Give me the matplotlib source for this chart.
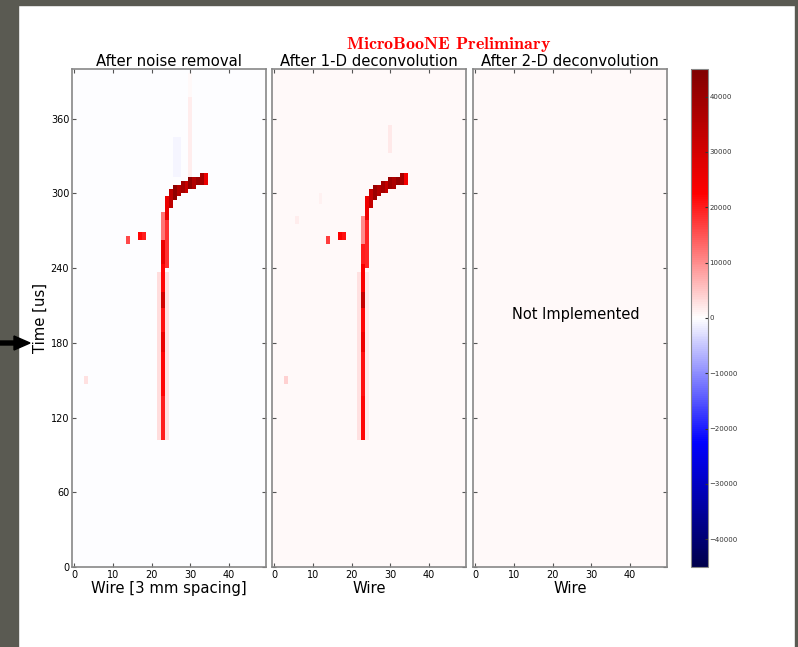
import numpy as np
import matplotlib
matplotlib.use("Agg")
import matplotlib.pyplot as plt
from matplotlib.patches import Rectangle, FancyArrow

plt.rcParams['mathtext.fontset'] = 'cm'

# detector grid: 50 wires x 125 time bins spanning 0-400 us
n_wires = 50
n_ticks = 125
t_max = 400.0

# hits as (wire, t_start, t_end, charge)
hits_raw = [
    (22, 103, 235, 3000), (24, 103, 235, 2500),
    (23, 103, 140, 20000), (23, 140, 175, 22000), (23, 175, 190, 26000),
    (23, 190, 210, 21000), (23, 210, 222, 30000), (23, 222, 245, 22000),
    (23, 245, 265, 26000), (24, 240, 280, 18000), (23, 265, 282, 12000),
    (24, 280, 296, 26000), (25, 288, 303, 34000), (26, 296, 305, 42000),
    (27, 299, 306, 36000), (28, 301, 308, 38000), (29, 303, 309, 32000),
    (30, 305, 311, 42000), (31, 306, 312, 36000), (32, 308, 313, 40000),
    (33, 309, 314, 38000), (34, 310, 314, 26000),
    (14, 260, 264, 16000), (17, 263, 268, 22000), (18, 263, 268, 20000),
    (3, 148, 152, 2500),
    (30, 314, 380, 1500), (30, 380, 395, 700),
    (26, 315, 345, -800), (27, 315, 345, -800),
]
hits_decon = [
    (22, 103, 235, 2500), (24, 103, 235, 2000),
    (23, 103, 140, 22000), (23, 140, 175, 21000), (23, 175, 190, 25000),
    (23, 190, 210, 22000), (23, 210, 222, 32000), (23, 222, 245, 23000),
    (23, 245, 262, 20000), (24, 240, 282, 19000), (23, 262, 280, 10000),
    (24, 280, 296, 25000), (25, 288, 303, 33000), (26, 296, 305, 40000),
    (27, 299, 306, 36000), (28, 301, 308, 38000), (29, 303, 309, 33000),
    (30, 305, 311, 40000), (31, 306, 312, 37000), (32, 308, 313, 41000),
    (33, 309, 314, 38000), (34, 310, 314, 24000),
    (14, 260, 264, 17000), (17, 263, 268, 23000), (18, 263, 268, 21000),
    (3, 148, 153, 4000), (6, 277, 281, 1500), (12, 294, 298, 1200),
    (30, 333, 352, 2000),
]
baseline_raw = -300
baseline_decon = 600
baseline_2d = 600

titles = ["After noise removal", "After 1-D deconvolution", "After 2-D deconvolution"]
xlabels = ["Wire [3 mm spacing]", "Wire", "Wire"]
x_ticks = [0, 10, 20, 30, 40]
y_ticks = [0, 60, 120, 180, 240, 300, 360]
cbar_ticks = [-40000, -30000, -20000, -10000, 0, 10000, 20000, 30000, 40000]
qmax = 45000


def fill(hits, base):
    img = np.full((n_ticks, n_wires), float(base))
    dt = t_max / n_ticks
    for w, t0, t1, q in hits:
        img[int(t0 / dt):int(t1 / dt) + 1, w] = q
    return img


images = [fill(hits_raw, baseline_raw), fill(hits_decon, baseline_decon),
          fill([], baseline_2d)]

fig = plt.figure(figsize=(7.98, 6.47), dpi=100)

# dark frame around the canvas
for x, y, w, h in [(0, 0, 18 / 798, 1), (0, 1 - 5 / 647, 1, 5 / 647),
                   (795 / 798, 0, 3 / 798, 1)]:
    fig.patches.append(Rectangle((x, y), w, h, transform=fig.transFigure,
                                 color='#5a5a52', zorder=0))

lefts = [72, 272, 473]
axes = []
for i, left in enumerate(lefts):
    ax = fig.add_axes([left / 798, 80 / 647, 194 / 798, 498 / 647])
    im = ax.imshow(images[i], cmap='seismic', vmin=-qmax, vmax=qmax,
                   origin='lower', aspect='auto', interpolation='nearest',
                   extent=(-0.5, n_wires - 0.5, 0, t_max))
    ax.set_xticks(x_ticks)
    ax.set_yticks(y_ticks)
    ax.tick_params(direction='in', top=True, right=True, length=3,
                   width=0.8, labelsize=7, color='#555555', pad=2)
    if i > 0:
        ax.set_yticklabels([])
    for s in ax.spines.values():
        s.set_color('#888888')
        s.set_linewidth(1.2)
    ax.set_title(titles[i], fontsize=10.7, pad=2)
    ax.set_xlabel(xlabels[i], fontsize=10.7, labelpad=1)
    axes.append(ax)

axes[0].set_ylabel("Time [us]", fontsize=10.7, labelpad=2)
axes[2].text(26, 203, "Not Implemented", fontsize=10.5, ha='center', va='center')

cax = fig.add_axes([691 / 798, 80 / 647, 17 / 798, 498 / 647])
cb = fig.colorbar(im, cax=cax, ticks=cbar_ticks)
cb.ax.tick_params(labelsize=5, length=2, direction='in', color='#333333',
                  labelcolor='#333333', pad=1)
cb.outline.set_edgecolor('#888888')

fig.text(449 / 798, 1 - 45 / 647, r'$\mathbf{MicroBooNE\ Preliminary}$',
         color='red', fontsize=13, ha='center', va='center')

fig.add_artist(FancyArrow(0, 1 - 343 / 647, 30 / 798, 0, width=4 / 647,
                          head_width=14 / 647, head_length=16 / 798,
                          length_includes_head=True, color='black',
                          transform=fig.transFigure))

fig.savefig("out.png", dpi=100)
